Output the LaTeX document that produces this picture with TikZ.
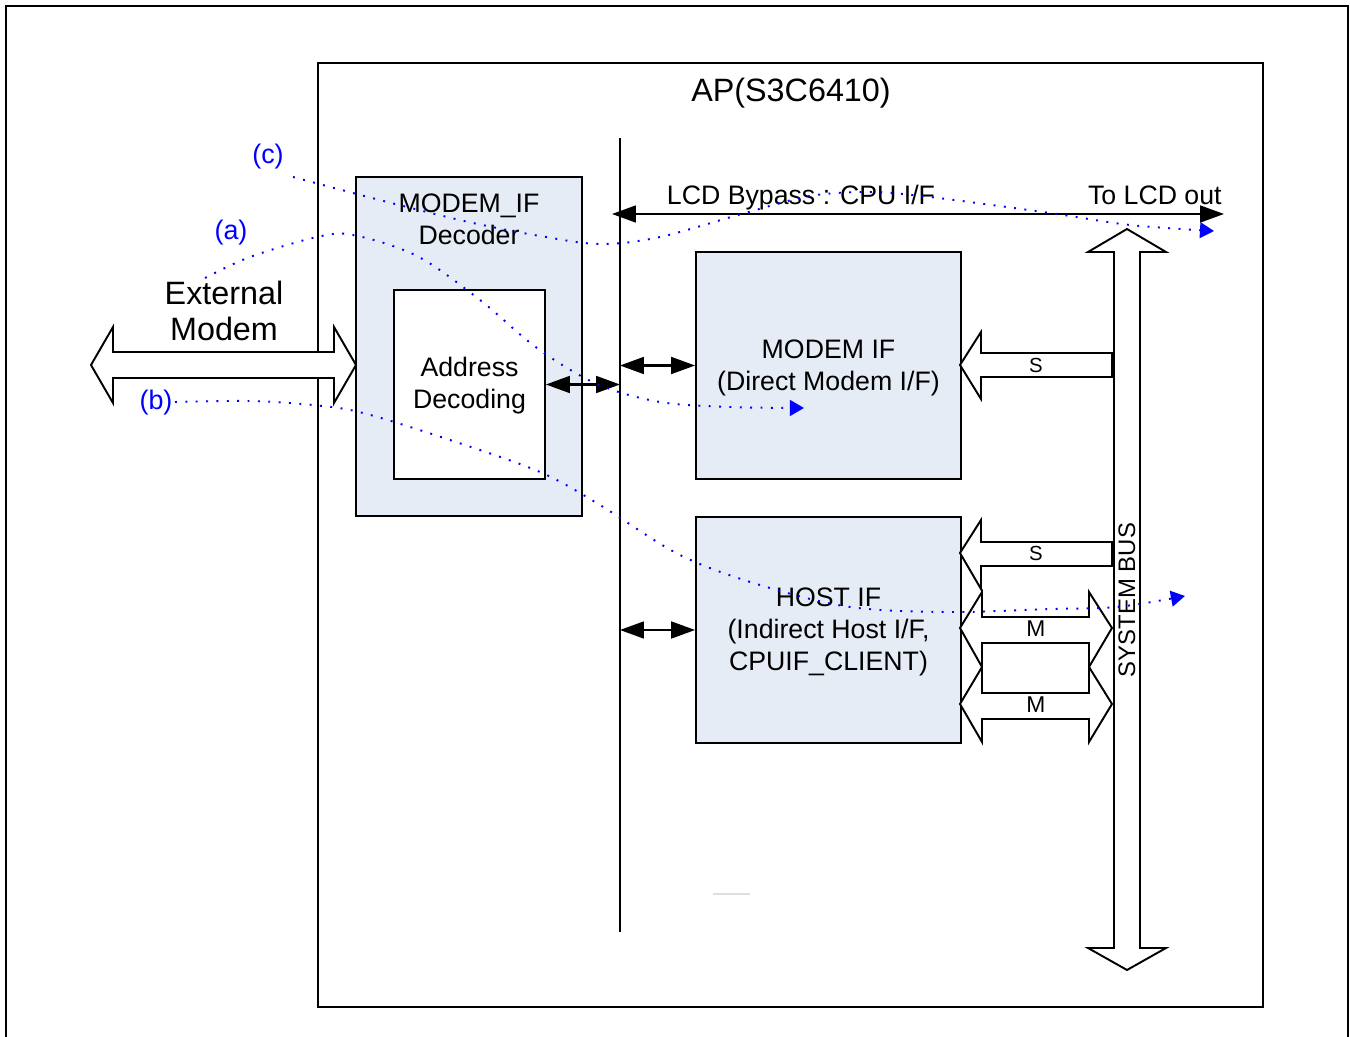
\documentclass[tikz,border=0pt]{standalone}
\usepackage{fontspec}
\setmainfont{Liberation Sans}
\usetikzlibrary{arrows.meta}
\definecolor{boxblue}{RGB}{230,236,246}
\definecolor{pathblue}{RGB}{0,0,255}
\begin{document}
\begin{tikzpicture}[x=0.02cm,y=-0.02cm,
  lw/.style={line width=1.1pt},
  fbox/.style={draw,lw,fill=boxblue,inner sep=0pt},
  wbox/.style={draw,lw,fill=white,inner sep=0pt},
  lbl/.style={font=\fontsize{15.2}{18.1}\selectfont, align=center, inner sep=0pt},
  title/.style={font=\fontsize{18.4}{21}\selectfont, align=center, inner sep=0pt},
  tag/.style={font=\fontsize{15.3}{18}\selectfont, text=pathblue, inner sep=0pt},
  small/.style={font=\fontsize{11.6}{13}\selectfont, inner sep=0pt},
  msmall/.style={font=\fontsize{13}{15}\selectfont, inner sep=0pt},
  blockarrow/.style={draw,lw,fill=white,line join=miter},
  dbl/.style={line width=1.2pt,{Triangle[length=13.6pt,width=9.6pt]}-{Triangle[length=13.6pt,width=9.6pt]}},
  bluepath/.style={draw=pathblue,line width=1.1pt,dash pattern=on 1.1pt off 4.8pt,
     -{Triangle[length=8pt,width=9pt,fill=pathblue]}}
]
\useasboundingbox (0,0) rectangle (1350,1037);

% outer frame (bottom edge lies outside the picture)
\draw[line width=1.4pt] (6,1045) -- (6,6) -- (1348,6) -- (1348,1045);

% AP box
\node[draw,lw,fill=white,minimum width=18.9cm,minimum height=18.88cm,inner sep=0pt] (ap) at (790.5,535) {};
\node[title,anchor=base] (aptitle) at (791,102) {AP(S3C6410)};

% External modem block arrow
\draw[blockarrow] (91,365) -- (113,327) -- (113,352) -- (334,352) -- (334,327) -- (356,365)
  -- (334,403) -- (334,378) -- (113,378) -- (113,403) -- cycle;
\node[title] (ext) at (224,311) {External\\[-0.5pt]Modem};

% MODEM_IF decoder
\node[fbox,minimum width=4.52cm,minimum height=6.78cm] (dec) at (469,346.5) {};
\node[lbl] (dectext) at (469,219.5) {MODEM\_IF\\Decoder};
\node[wbox,minimum width=3.02cm,minimum height=3.78cm] (addr) at (469.5,384.5) {};
\node[lbl] (addrtext) at (469.5,385.5) {Address\\Decoding};

% internal bus line
\coordinate (bt) at (620,138);
\coordinate (bb) at (620,932);
\draw[lw] (bt) -- (bb);

% MODEM IF / HOST IF
\node[fbox,minimum width=5.3cm,minimum height=4.54cm] (mif) at (828.5,365.5) {};
\node[lbl] (miftext) at (828.5,368) {MODEM IF\\(Direct Modem I/F)};
\node[fbox,minimum width=5.3cm,minimum height=4.52cm] (hif) at (828.5,630) {};
\node[lbl] (hiftext) at (828.5,632) {HOST IF\\(Indirect Host I/F,\\CPUIF\_CLIENT)};

% small double arrows
\draw[dbl] (addr.east) -- (addr.east -| bt);
\draw[dbl] (mif.west -| bt) -- (mif.west);
\draw[dbl] (hif.west -| bt) -- (hif.west);

% LCD bypass
\coordinate (lcdL) at (612,214);
\coordinate (lcdR) at (1224,214);
\draw[dbl] (lcdL) -- (lcdR);
\node[lbl,anchor=base] (lcdtext) at (801,205) {LCD Bypass : CPU I/F};
\node[lbl,anchor=base east] (lcdout) at (1222,205) {To LCD out};

% system bus
\draw[blockarrow] (1127,229) -- (1166,252) -- (1140,252) -- (1140,948) -- (1166,948) -- (1127,970)
  -- (1088,948) -- (1114,948) -- (1114,252) -- (1088,252) -- cycle;
\node[font=\fontsize{13.6}{15}\selectfont,inner sep=0pt,rotate=90] (sysbus) at (1127,600) {SYSTEM BUS};

% S / M block arrows
\draw[blockarrow] (960,365) -- (981,332) -- (981,353) -- (1112,353) -- (1112,377) -- (981,377) -- (981,399) -- cycle;
\node[small] (s1) at (1036,365) {S};
\draw[blockarrow] (960,553) -- (981,520) -- (981,542) -- (1112,542) -- (1112,566) -- (981,566) -- (981,589) -- cycle;
\node[small] (s2) at (1036,553) {S};
\draw[blockarrow] (960,628) -- (982,592) -- (982,617) -- (1089,617) -- (1089,592) -- (1112,628)
  -- (1089,667) -- (1089,643) -- (982,643) -- (982,667) -- cycle;
\node[msmall] (m1) at (1036,629) {M};
\draw[blockarrow] (960,704) -- (982,667) -- (982,693) -- (1089,693) -- (1089,667) -- (1112,704)
  -- (1089,742) -- (1089,719) -- (982,719) -- (982,742) -- cycle;
\node[msmall] (m2) at (1036,705) {M};

% faint artifact
\draw[gray!25,line width=0.6pt] (713,894) -- (750,894);

% path labels
\node[tag] (ta) at (231,233) {(a)};
\node[tag] (tb) at (156,403) {(b)};
\node[tag] (tc) at (268,157) {(c)};

% dotted paths
\draw[bluepath] plot[smooth,tension=0.55] coordinates {(293,177) (353,193) (407,207) (473,223) (540,236) (600,244) (660,237) (745,213) (810,196) (870,192) (930,197) (1050,213) (1130,225) (1214,231)};
\draw[bluepath] plot[smooth,tension=0.55] coordinates {(205,278) (250,257) (317,237) (353,235) (417,256) (480,300) (537,348) (597,384) (660,402) (730,407) (804,408)};
\draw[bluepath] plot[smooth,tension=0.55] coordinates {(175,402) (250,401) (313,405) (363,413) (450,440) (540,472) (600,505) (680,555) (760,585) (850,607) (950,612) (1050,609) (1117,607) (1185,596)};
\end{tikzpicture}
\end{document}
